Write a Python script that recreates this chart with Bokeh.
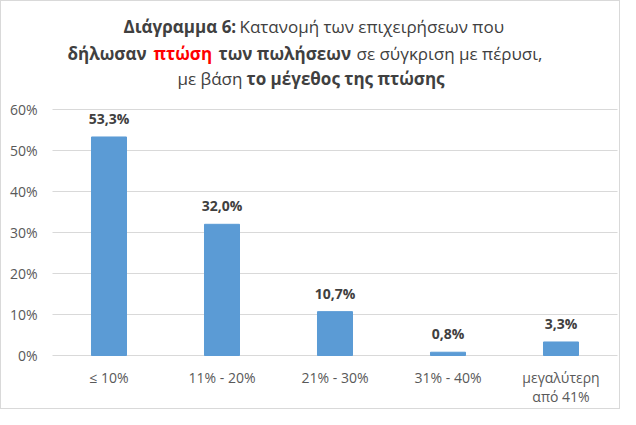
from bokeh.core.properties import value
from bokeh.embed import file_html
from bokeh.models import Range1d
from bokeh.plotting import figure
from bokeh.resources import INLINE

categories = ["≤ 10%", "11% - 20%", "21% - 30%", "31% - 40%", "μεγαλύτερη\nαπό 41%"]
shares = [53.3, 32.0, 10.7, 0.8, 3.3]
y_ticks = [0, 10, 20, 30, 40, 50, 60]
tick_labels = [f"{t}%" for t in y_ticks]

FONT = "Open Sans"
BAR = "#5B9BD5"
DARK = "#404040"
GREY = "#595959"
GRID = "#d9d9d9"

W, H = 620, 409
# plot area in pixels: x 51..616, y 108 (60%) .. 354 (0%)
X_LEFT, X_RIGHT, Y_TOP, Y_ZERO = 51, 616, 108, 354
Y_MAX = 60
KX = (X_RIGHT - X_LEFT) / len(categories)
KY = (Y_ZERO - Y_TOP) / Y_MAX


def dx(px):
    return (px - X_LEFT) / KX


def dy(py):
    return (Y_ZERO - py) / KY


p = figure(x_range=Range1d(dx(0), dx(W)), y_range=Range1d(dy(H), dy(0)),
           width=W, height=H, output_backend="svg", toolbar_location=None,
           x_axis_type=None, y_axis_type=None, min_border=0)
p.outline_line_color = None
p.background_fill_color = "white"
p.border_fill_color = "white"
p.grid.visible = False
p.styles = {"border": "1px solid #d9d9d9"}

xs = [i + 0.5 for i in range(len(categories))]

# horizontal gridlines across the plot area
p.segment(x0=[0] * len(y_ticks), x1=[len(categories)] * len(y_ticks),
          y0=y_ticks, y1=y_ticks, line_color=GRID, line_width=1)

p.vbar(x=xs, top=shares, width=0.31, color=BAR)

labels = [f"{v:.1f}".replace(".", ",") + "%" for v in shares]
p.text(x=xs, y=shares, text=labels, text_align="center",
       text_baseline="bottom", y_offset=-9, text_font=value(FONT),
       text_font_style="bold", text_font_size="14px", text_color=DARK)

# y tick labels
p.text(x=[dx(36)] * len(y_ticks), y=y_ticks, text=tick_labels,
       text_align="right", text_baseline="middle", text_font=value(FONT),
       text_font_size="14px", text_color=GREY)

# category labels
p.text(x=xs, y=[0] * len(xs), text=categories, text_align="center",
       text_baseline="top", y_offset=12, text_line_height=1.0,
       text_font=value(FONT), text_font_size="14px", text_color=GREY)

# title pieces: (text, left x px, y px, bold, colour)
title_parts = [
    ("Διάγραμμα 6:", 122, 25, True, DARK),
    ("Κατανομή των επιχειρήσεων που", 238, 25, False, DARK),
    ("δήλωσαν", 66, 52, True, DARK),
    ("πτώση", 152, 52, True, "#FF0000"),
    ("των πωλήσεων", 217, 52, True, DARK),
    ("σε σύγκριση με πέρυσι,", 355, 52, False, DARK),
    ("με βάση", 176, 77, False, DARK),
    ("το μέγεθος της πτώσης", 245, 77, True, DARK),
]
p.text(x=[dx(t[1]) for t in title_parts], y=[dy(t[2]) for t in title_parts],
       text=[t[0] for t in title_parts],
       text_font_style=["bold" if t[3] else "normal" for t in title_parts],
       text_color=[t[4] for t in title_parts],
       text_align="left", text_baseline="middle",
       text_font=value(FONT), text_font_size="17px")

open("out.html", "w").write(file_html(p, INLINE))
